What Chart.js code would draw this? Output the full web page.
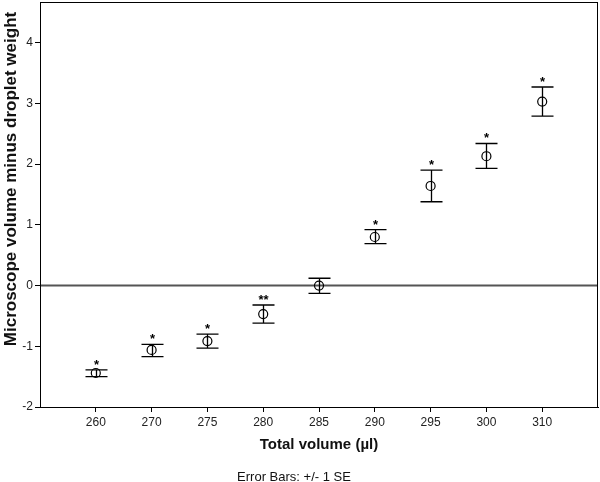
<!DOCTYPE html>
<html>
<head>
<meta charset="utf-8">
<script src="https://cdn.jsdelivr.net/npm/chart.js@4"></script>
<style>
  html, body { margin: 0; padding: 0; background: #fff; }
  #wrap { width: 600px; height: 482px; }
</style>
</head>
<body>
<div id="wrap"><canvas id="myChart" width="600" height="482"></canvas></div>
<script>
// data
var volumes = ['260', '270', '275', '280', '285', '290', '295', '300', '310'];
var means   = [-1.44, -1.06, -0.915, -0.47, 0.0, 0.80, 1.64, 2.13, 3.03];
var upper   = [-1.39, -0.97, -0.80, -0.32, 0.12, 0.92, 1.90, 2.34, 3.27];
var lower   = [-1.50, -1.17, -1.03, -0.62, -0.13, 0.69, 1.38, 1.93, 2.79];
var stars   = ['*', '*', '*', '**', '', '*', '*', '*', '*'];
var yTicks  = [-2, -1, 0, 1, 2, 3, 4];

var font = "'Liberation Sans', Arial, sans-serif";

let points = volumes.map((v, i) => ({ x: i + 1, y: means[i] }));

// error bars, asterisks, zero line, frame and titles
var extras = {
    id: 'extras',
    beforeDatasetsDraw(chart) {
        let ctx = chart.ctx;
        let area = chart.chartArea;
        let ys = chart.scales.y;
        let y0 = ys.getPixelForValue(0);
        ctx.save();
        ctx.strokeStyle = '#555';
        ctx.lineWidth = 2;
        ctx.beginPath();
        ctx.moveTo(area.left, y0);
        ctx.lineTo(area.right, y0);
        ctx.stroke();

        ctx.strokeStyle = '#000';
        ctx.lineWidth = 1;
        ctx.strokeRect(area.left + 0.5, area.top + 0.5, area.right - area.left - 1, area.bottom - area.top);
        ctx.restore();
    },
    afterDatasetsDraw(chart) {
        let ctx = chart.ctx;
        let xs = chart.scales.x;
        let ys = chart.scales.y;
        ctx.save();
        ctx.strokeStyle = '#000';
        ctx.lineWidth = 1.3;
        for (let i = 0; i < volumes.length; i++) {
            let x = Math.round(xs.getPixelForValue(i + 1)) + 0.5;
            let yt = ys.getPixelForValue(upper[i]);
            let yb = ys.getPixelForValue(lower[i]);
            ctx.beginPath();
            ctx.moveTo(x, yt); ctx.lineTo(x, yb);
            ctx.moveTo(x - 11, yt); ctx.lineTo(x + 11, yt);
            ctx.moveTo(x - 11, yb); ctx.lineTo(x + 11, yb);
            ctx.stroke();
            if (stars[i]) {
                ctx.fillStyle = '#000';
                ctx.font = 'bold 13px ' + font;
                ctx.textAlign = 'center';
                ctx.textBaseline = 'alphabetic';
                ctx.fillText(stars[i], x, yt - 1);
            }
        }
        ctx.restore();
    },
    afterDraw(chart) {
        let ctx = chart.ctx;
        let area = chart.chartArea;
        ctx.save();
        ctx.fillStyle = '#111';
        ctx.textAlign = 'center';
        ctx.textBaseline = 'middle';
        ctx.font = 'bold 15px ' + font;
        ctx.fillText('Total volume (\u00b5l)', (area.left + area.right) / 2, 445);
        ctx.font = '13px ' + font;
        ctx.fillText('Error Bars: +/- 1 SE', 294, 477);
        ctx.translate(11, 179);
        ctx.rotate(-Math.PI / 2);
        ctx.font = 'bold 17px ' + font;
        ctx.fillText('Microscope volume minus droplet weight', 0, 0);
        ctx.restore();
    }
};

var ctx = document.getElementById('myChart').getContext('2d');
var chart = new Chart(ctx, {
    type: 'scatter',
    data: {
        datasets: [{
            data: points,
            pointStyle: 'circle',
            pointRadius: 4.5,
            pointBorderWidth: 1.2,
            pointBorderColor: '#000',
            pointBackgroundColor: 'rgba(0,0,0,0)'
        }]
    },
    options: {
        responsive: false,
        animation: false,
        layout: { autoPadding: false, padding: { top: 2, right: 2, left: 0, bottom: 0 } },
        plugins: { legend: { display: false }, tooltip: { enabled: false } },
        scales: {
            x: {
                type: 'linear',
                min: 0,
                max: 10,
                afterBuildTicks: (scale) => { scale.ticks = volumes.map((v, i) => ({ value: i + 1 })); },
                afterFit: (scale) => { scale.height = 75; scale.paddingLeft = 0; scale.paddingRight = 0; },
                ticks: {
                    callback: (v) => volumes[v - 1],
                    color: '#222',
                    font: { family: font, size: 12 },
                    padding: 3,
                    maxRotation: 0,
                    autoSkip: false
                },
                grid: { drawOnChartArea: false, drawTicks: true, tickLength: 5, color: '#000' },
                border: { color: '#000', width: 1 }
            },
            y: {
                min: -2,
                max: 4.67,
                afterBuildTicks: (scale) => { scale.ticks = yTicks.map(v => ({ value: v })); },
                afterFit: (scale) => { scale.width = 40; scale.paddingTop = 0; scale.paddingBottom = 0; },
                ticks: {
                    color: '#222',
                    font: { family: font, size: 12 },
                    padding: 2
                },
                grid: { drawOnChartArea: false, drawTicks: true, tickLength: 5, color: '#000' },
                border: { color: '#000', width: 1 }
            }
        }
    },
    plugins: [extras]
});
</script>
</body>
</html>
